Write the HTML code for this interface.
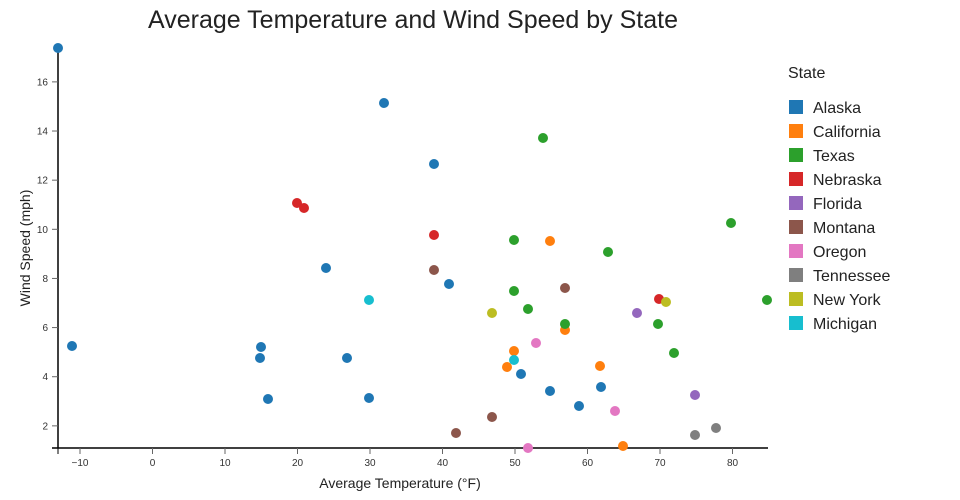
<!DOCTYPE html>
<html><head><meta charset="utf-8"><style>body{margin:0;background:#fff}svg{display:block;font-family:"Liberation Sans","DejaVu Sans",sans-serif}</style></head><body>
<svg width="960" height="500" xmlns="http://www.w3.org/2000/svg">
<text x="413" y="28" font-size="25" text-anchor="middle" fill="#222">Average Temperature and Wind Speed by State</text>
<g stroke="#000" stroke-width="1.5"><line x1="58" y1="44" x2="58" y2="448"/><line x1="52" y1="448" x2="768" y2="448"/></g>
<g id="yt" font-size="10" fill="#333" text-anchor="end"></g>
<g id="xt" font-size="10" fill="#333" text-anchor="middle"></g>
<text x="400" y="488" font-size="14" text-anchor="middle" fill="#222">Average Temperature (°F)</text>
<text transform="translate(30,248) rotate(-90)" font-size="14" text-anchor="middle" fill="#222">Wind Speed (mph)</text>
<g id="pts"></g>
<g id="leg" font-size="16" fill="#222"><text x="788" y="78">State</text></g>
<script>
var ns="http://www.w3.org/2000/svg";
function el(p,t,a,txt){var e=document.createElementNS(ns,t);for(var k in a)e.setAttribute(k,a[k]);if(txt!=null)e.textContent=txt;p.appendChild(e);return e;}
var yt=document.getElementById('yt');
for(var v=2;v<=16;v+=2){var y=475-24.57*v;el(yt,'line',{x1:52,x2:58,y1:y,y2:y,stroke:'#666'});el(yt,'text',{x:48,y:y+3.5},v);}
var xt=document.getElementById('xt');
for(var v=-10;v<=80;v+=10){var x=152.5+7.25*v;el(xt,'line',{x1:x,x2:x,y1:448,y2:454,stroke:'#666'});el(xt,'text',{x:x,y:466},v===-10?'\u221210':v);}
el(xt,'line',{x1:58,x2:58,y1:448,y2:454,stroke:'#000'});
var S=[["Alaska","#1f77b4",[[58,48],[384,103],[434,164],[326,268],[449,284],[72,346],[261,347],[260,358],[347,358],[521,374],[550,391],[601,387],[268,399],[369,398],[579,406]]],
["California","#ff7f0e",[[550,241],[565,330],[514,351],[507,367],[600,366],[623,446]]],
["Texas","#2ca02c",[[543,138],[731,223],[514,240],[608,252],[514,291],[528,309],[565,324],[658,324],[767,300],[674,353]]],
["Nebraska","#d62728",[[297,203],[304,208],[434,235],[659,299]]],
["Florida","#9467bd",[[637,313],[695,395]]],
["Montana","#8c564b",[[434,270],[565,288],[492,417],[456,433]]],
["Oregon","#e377c2",[[536,343],[615,411],[528,448]]],
["Tennessee","#7f7f7f",[[716,428],[695,435]]],
["New York","#bcbd22",[[492,313],[666,302]]],
["Michigan","#17becf",[[369,300],[514,360]]]];
var pts=document.getElementById('pts'),leg=document.getElementById('leg');
S.forEach(function(s,i){s[2].forEach(function(p){el(pts,'circle',{cx:p[0],cy:p[1],r:5,fill:s[1]});});
var y=107+24*i;el(leg,'rect',{x:789,y:y-7,width:14,height:14,fill:s[1]});el(leg,'text',{x:813,y:y+6},s[0]);});
</script>
</svg>
</body></html>
